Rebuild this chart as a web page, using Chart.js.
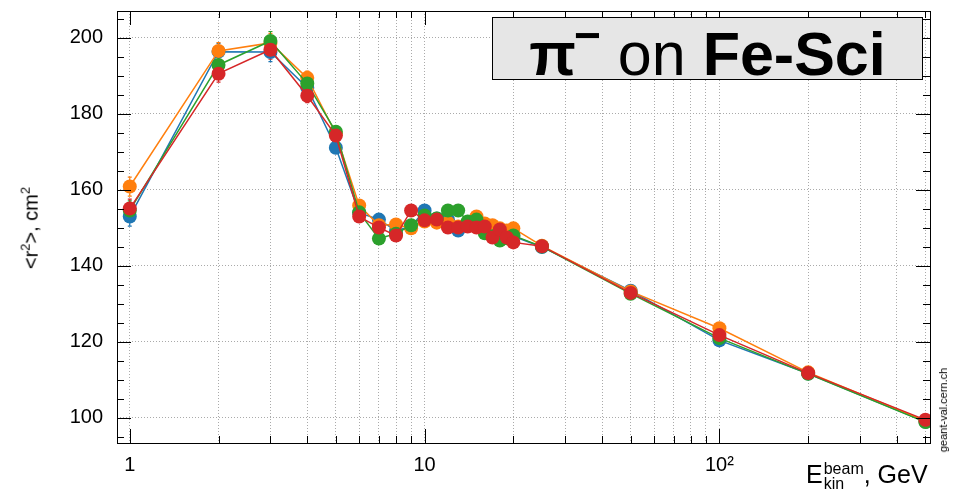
<!DOCTYPE html>
<html>
<head>
<meta charset="utf-8">
<script src="https://cdn.jsdelivr.net/npm/chart.js@4"></script>
<style>
  body { margin: 0; background: #fff; font-family: 'Liberation Sans', Arial, sans-serif; overflow: hidden; }
  #wrap { position: relative; width: 954px; height: 490px; overflow: hidden; }
  #holder { position: absolute; left: 0; top: -15px; width: 954px; height: 505px; }
  .lbl { position: absolute; color: #000; white-space: nowrap; }
  #title-box {
    position: absolute; left: 492px; top: 17px; width: 429px; height: 61px;
    background: #e6e6e6; border: 1.5px solid #000;
    display: flex; align-items: center; justify-content: center;
    font-size: 61px; line-height: 1;
  }
  #title-box b { font-weight: bold; }
  #ytitle { left: 30px; top: 228px; font-size: 20px; transform: translate(-50%, -50%) rotate(-90deg); }
  #xtitle { left: 806px; top: 460px; font-size: 25px; }
  #xtitle .stack { display: inline-block; vertical-align: middle; font-size: 16px; line-height: 15px; text-align: left; margin-left: 1px; }
  #wm { left: 943px; top: 410px; font-size: 11px; transform: translate(-50%, -50%) rotate(-90deg); }
</style>
</head>
<body>
<div id="wrap">
  <div id="holder"><canvas id="chart"></canvas></div>
  <div id="title-box"><span><b>π<sup style="font-size:46px;vertical-align:24px;margin-left:-2px;">−</sup></b> on <b>Fe-Sci</b></span></div>
  <div class="lbl" id="ytitle">&lt;r<sup style="font-size:13px">2</sup>&gt;, cm<sup style="font-size:13px">2</sup></div>
  <div class="lbl" id="xtitle">E<span class="stack">beam<br>kin</span>, GeV</div>
  <div class="lbl" id="wm">geant-val.cern.ch</div>
</div>
<script>
// beam kinetic energy, GeV
const energies = [1, 2, 3, 4, 5, 6, 7, 8, 9, 10, 11, 12, 13, 14, 15, 16, 17, 18, 19, 20, 25, 50, 100, 200, 500];

// <r^2>, cm^2 for the four series
const blueVals   = [153.0, 196.4, 196.3, 186.9, 171.1, 154.0, 152.2, 149.3, 150.4, 154.6, 152.5, 152.2, 149.3, 150.9, 151.4, 149.6, 149.3, 148.8, 148.3, 147.8, 145.0, 133.5, 120.4, 111.7, 99.0];
const orangeVals = [160.9, 196.6, 198.7, 189.5, 174.8, 155.9, 150.7, 150.9, 149.9, 151.7, 151.4, 151.4, 150.4, 151.2, 153.0, 151.2, 150.7, 149.9, 149.3, 149.9, 145.3, 133.3, 123.6, 112.0, 99.2];
const greenVals  = [154.6, 192.9, 199.2, 188.0, 175.3, 154.1, 147.2, 148.5, 150.7, 153.3, 152.5, 154.6, 154.6, 151.7, 152.2, 148.6, 147.8, 146.7, 147.3, 148.0, 145.1, 132.7, 121.0, 111.6, 98.9];
const redVals    = [155.1, 190.6, 196.9, 184.8, 174.3, 153.0, 150.1, 148.0, 154.6, 152.0, 152.2, 150.1, 150.1, 150.4, 150.1, 150.4, 147.5, 149.6, 147.5, 146.2, 145.2, 132.9, 121.8, 111.8, 99.5];

// statistical errors (approx, same for all series)
const errVals    = [2.5, 2.2, 2.5, 1.8, 1.5, 1.0, 1.0, 1.0, 1.0, 1.0, 0.9, 0.9, 0.9, 0.9, 0.9, 0.9, 0.8, 0.8, 0.8, 0.8, 0.6, 0.5, 0.5, 0.4, 0.4];

// axis ticks
const xGrid   = [1, 2, 3, 4, 5, 6, 7, 8, 9, 10, 20, 30, 40, 50, 60, 70, 80, 90, 100, 200, 300, 400, 500];
const xLabels = { 1: '1', 10: '10', 100: '10²' };
const yTicks  = [100, 120, 140, 160, 180, 200];
const yMinor  = [95, 100, 105, 110, 115, 120, 125, 130, 135, 140, 145, 150, 155, 160, 165, 170, 175, 180, 185, 190, 195, 200, 205];

const series = [
    { name: 'blue',   vals: blueVals,   color: '#1f77b4', order: 4 },
    { name: 'orange', vals: orangeVals, color: '#ff7f0e', order: 3 },
    { name: 'green',  vals: greenVals,  color: '#2ca02c', order: 2 },
    { name: 'red',    vals: redVals,    color: '#d62728', order: 1 },
];

const datasets = series.map(s => ({
    label:            s.name,
    data:             energies.map((e, i) => ({ x: e, y: s.vals[i] })),
    borderColor:      s.color,
    backgroundColor:  s.color,
    borderWidth:      1.5,
    pointRadius:      7,
    pointBorderWidth: 0,
    pointHoverRadius: 7,
    tension:          0,
    order:            s.order,
}));

// error bars + ROOT-like frame with inside ticks
const rootFrame = {
    id: 'rootFrame',
    beforeDatasetsDraw(chart) {
        const { ctx, scales: { x, y } } = chart;
        ctx.save();
        ctx.lineWidth = 1.2;
        series.forEach(s => {
            ctx.strokeStyle = s.color;
            energies.forEach((e, i) => {
                const px = x.getPixelForValue(e);
                const y0 = y.getPixelForValue(s.vals[i] - errVals[i]);
                const y1 = y.getPixelForValue(s.vals[i] + errVals[i]);
                ctx.beginPath();
                ctx.moveTo(px, y0); ctx.lineTo(px, y1);
                ctx.moveTo(px - 2, y0); ctx.lineTo(px + 2, y0);
                ctx.moveTo(px - 2, y1); ctx.lineTo(px + 2, y1);
                ctx.stroke();
            });
        });
        ctx.restore();
    },
    afterDraw(chart) {
        const { ctx, chartArea: a, scales: { x, y } } = chart;
        ctx.save();
        ctx.strokeStyle = '#000';
        ctx.lineWidth = 1;
        ctx.strokeRect(a.left + 0.5, a.top + 0.5, a.right - a.left, a.bottom - a.top);
        ctx.beginPath();
        yMinor.forEach(v => {
            const py = Math.round(y.getPixelForValue(v)) + 0.5;
            const len = yTicks.includes(v) ? 14 : 7;
            ctx.moveTo(a.left, py);  ctx.lineTo(a.left + len, py);
            ctx.moveTo(a.right, py); ctx.lineTo(a.right - len, py);
        });
        xGrid.forEach(v => {
            const px = Math.round(x.getPixelForValue(v)) + 0.5;
            const len = xLabels[v] ? 14 : 7;
            ctx.moveTo(px, a.bottom); ctx.lineTo(px, a.bottom - len);
            ctx.moveTo(px, a.top);    ctx.lineTo(px, a.top + len);
        });
        ctx.stroke();
        ctx.restore();
    },
};

new Chart(document.getElementById('chart'), {
    type: 'line',
    data: { datasets },
    options: {
        responsive:          true,
        maintainAspectRatio: false,
        animation:           false,
        layout: { padding: { top: 10, right: 24, left: 0, bottom: 0 } },
        plugins: {
            legend:  { display: false },
            tooltip: { enabled: false },
        },
        scales: {
            x: {
                type: 'logarithmic',
                min: 0.905,
                max: 518,
                afterBuildTicks: sc => { sc.ticks = xGrid.map(v => ({ value: v })); },
                afterFit: sc => { sc.height = 47; },
                border: { display: false, dash: [1, 2] },
                grid: { color: '#aaa', lineWidth: 1, drawTicks: false },
                ticks: {
                    autoSkip: false, maxRotation: 0, padding: 10,
                    color: '#000', font: { family: 'Liberation Sans', size: 20 },
                    callback: v => xLabels[v] || '',
                },
            },
            y: {
                min: 93.4,
                max: 207.1,
                afterBuildTicks: sc => { sc.ticks = yTicks.map(v => ({ value: v })); },
                afterFit: sc => { sc.width = 117; },
                border: { display: false, dash: [1, 2] },
                grid: { color: '#aaa', lineWidth: 1, drawTicks: false },
                ticks: {
                    padding: 14,
                    color: '#000', font: { family: 'Liberation Sans', size: 20 },
                },
            },
        },
    },
    plugins: [rootFrame],
});
</script>
</body>
</html>
